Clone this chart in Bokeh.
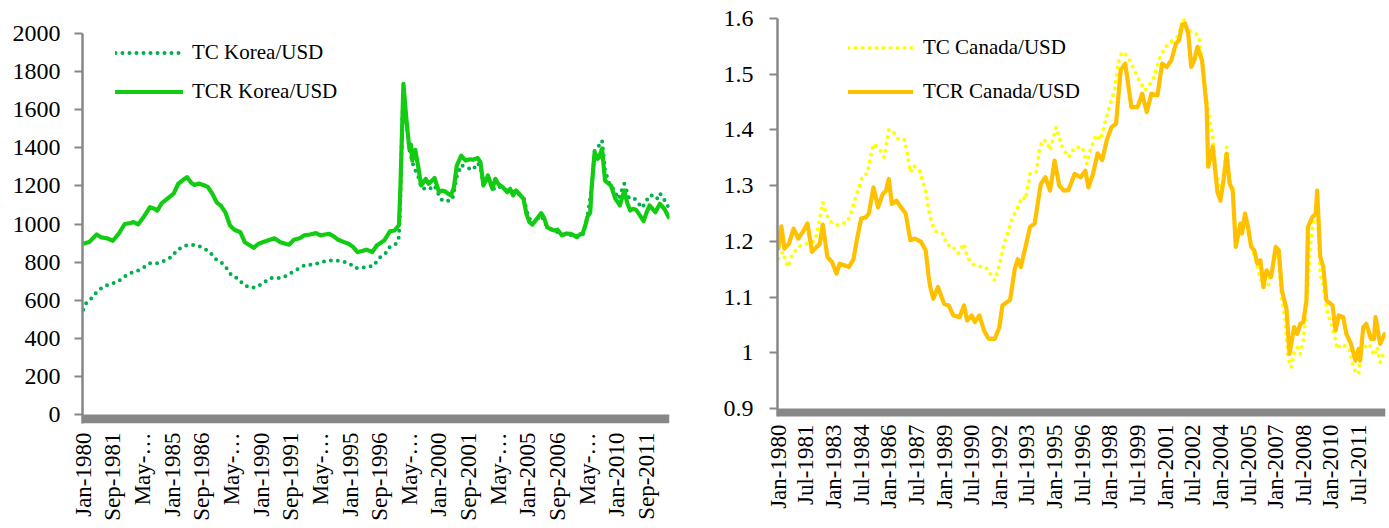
import math
from bokeh.plotting import figure
from bokeh.models import Range1d, FixedTicker, Legend, LegendItem, BoxAnnotation
from bokeh.layouts import row
from bokeh.embed import file_html
from bokeh.resources import INLINE

# ---------------- data (month index 0 = Jan-1980) ----------------
korea_tcr_months = [0, 4, 9, 12, 16, 20, 24, 28, 32, 34, 37, 41, 45, 48, 50, 53, 57, 61, 64, 68,
                    70, 73, 75, 78, 81, 84, 87, 90, 93, 96, 99, 102, 106, 109, 112, 115, 118, 121, 125, 129,
                    133, 137, 139, 142, 146, 149, 153, 157, 160, 163, 166, 169, 172, 176, 179, 182, 185, 188, 191, 193,
                    195, 198, 203, 207, 210, 213, 214, 216, 218, 220, 221, 222, 224, 226, 228, 231, 233, 235, 237, 240,
                    242, 244, 246, 248, 250, 252, 255, 258, 261, 263, 266, 268, 270, 273, 276, 278, 280, 283, 286, 288,
                    290, 292, 295, 297, 299, 301, 303, 306, 309, 311, 313, 316, 318, 320, 323, 326, 329, 331, 333, 335,
                    337, 339, 340, 342, 343, 345, 347, 348, 350, 352, 354, 356, 359, 361, 362, 365, 367, 369, 371, 373,
                    376, 378, 380, 382, 384, 386, 389, 392, 395]
korea_tcr = [896, 905, 945, 930, 925, 912, 950, 1000, 1005, 1010, 998, 1040, 1088, 1080, 1070, 1110, 1135, 1160, 1210, 1235,
             1246, 1215, 1205, 1212, 1205, 1195, 1160, 1114, 1095, 1060, 992, 970, 957, 904, 890, 875, 895, 904, 915, 925,
             904, 895, 892, 917, 925, 940, 945, 952, 940, 945, 948, 935, 917, 905, 896, 880, 852, 858, 865, 860,
             852, 887, 913, 962, 966, 995, 1200, 1736, 1550, 1395, 1417, 1333, 1389, 1300, 1202, 1237, 1211, 1225, 1242, 1167,
             1175, 1172, 1160, 1150, 1190, 1307, 1359, 1333, 1340, 1337, 1347, 1324, 1202, 1255, 1185, 1237, 1210, 1193, 1167, 1185,
             1150, 1176, 1150, 1132, 1053, 1010, 997, 1027, 1057, 1030, 983, 970, 966, 970, 940, 950, 948, 940, 931, 945,
             952, 1000, 1036, 1060, 1193, 1377, 1342, 1350, 1395, 1228, 1215, 1202, 1132, 1110, 1097, 1176, 1110, 1071, 1080, 1074,
             1040, 1015, 1060, 1097, 1080, 1062, 1106, 1080, 1036]

korea_tc_months = [0, 2, 5, 9, 13, 18, 23, 27, 32, 36, 41, 45, 50, 55, 60, 63, 68, 72, 77, 82,
                   86, 89, 93, 97, 100, 105, 108, 113, 117, 122, 126, 132, 136, 141, 145, 150, 155, 160, 165, 170,
                   175, 180, 183, 187, 192, 196, 199, 204, 207, 211, 213, 214, 215, 216, 218, 220, 223, 226, 228, 233,
                   237, 241, 244, 249, 252, 255, 258, 263, 266, 268, 270, 273, 276, 280, 284, 288, 292, 297, 300, 303,
                   306, 309, 313, 318, 323, 328, 333, 337, 340, 343, 345, 348, 350, 352, 355, 358, 361, 363, 365, 368,
                   371, 374, 377, 379, 382, 384, 387, 389, 392, 395]
korea_tc = [550, 584, 605, 642, 668, 686, 694, 721, 742, 752, 773, 794, 794, 808, 829, 861, 885, 891, 887, 870,
            847, 817, 800, 765, 730, 712, 682, 665, 668, 694, 716, 716, 724, 747, 765, 786, 787, 798, 808, 808,
            805, 791, 770, 768, 777, 780, 817, 847, 882, 896, 931, 1150, 1500, 1706, 1530, 1390, 1298, 1250, 1190, 1180,
            1202, 1132, 1118, 1127, 1249, 1310, 1298, 1284, 1320, 1300, 1200, 1250, 1180, 1200, 1180, 1175, 1165, 1140, 1045, 1000,
            1025, 1045, 985, 965, 945, 945, 930, 945, 1030, 1190, 1390, 1412, 1438, 1280, 1211, 1180, 1132, 1170, 1211, 1141,
            1141, 1114, 1085, 1110, 1150, 1150, 1132, 1162, 1127, 1088]

canada_tcr_months = [0, 2, 4, 7, 10, 13, 16, 19, 22, 25, 27, 29, 32, 35, 38, 40, 43, 46, 49, 51,
                     54, 57, 59, 62, 65, 68, 70, 72, 74, 77, 80, 83, 86, 89, 93, 96, 98, 99, 101, 104,
                     108, 111, 114, 118, 121, 123, 126, 128, 131, 134, 137, 141, 144, 146, 149, 151, 154, 156, 158, 161,
                     164, 167, 171, 174, 177, 180, 183, 186, 189, 193, 197, 200, 202, 205, 208, 211, 214, 217, 220, 223,
                     226, 230, 234, 237, 240, 243, 247, 250, 253, 256, 259, 261, 263, 265, 267, 269, 271, 273, 276, 279,
                     280, 283, 286, 288, 290, 292, 294, 296, 298, 301, 302, 304, 306, 308, 310, 312, 314, 316, 318, 321,
                     324, 326, 328, 331, 333, 336, 338, 340, 342, 344, 345, 348, 350, 351, 353, 355, 357, 361, 363, 365,
                     368, 370, 373, 376, 378, 379, 381, 383, 386, 388, 389, 392, 395]
canada_tcr = [1.187, 1.227, 1.187, 1.196, 1.223, 1.205, 1.217, 1.232, 1.181, 1.190, 1.195, 1.230, 1.172, 1.163, 1.142, 1.160, 1.157, 1.154, 1.168, 1.200,
              1.241, 1.243, 1.250, 1.297, 1.261, 1.285, 1.290, 1.312, 1.267, 1.273, 1.261, 1.250, 1.202, 1.205, 1.199, 1.184, 1.136, 1.118, 1.097, 1.118,
              1.088, 1.085, 1.067, 1.064, 1.085, 1.058, 1.067, 1.055, 1.067, 1.040, 1.025, 1.025, 1.046, 1.085, 1.091, 1.095, 1.150, 1.168, 1.154, 1.190,
              1.226, 1.232, 1.303, 1.315, 1.291, 1.345, 1.300, 1.291, 1.292, 1.321, 1.315, 1.327, 1.297, 1.321, 1.358, 1.346, 1.382, 1.405, 1.411, 1.507,
              1.519, 1.441, 1.441, 1.465, 1.432, 1.465, 1.462, 1.519, 1.513, 1.525, 1.555, 1.561, 1.588, 1.591, 1.573, 1.513, 1.525, 1.549, 1.525, 1.441,
              1.334, 1.370, 1.289, 1.273, 1.309, 1.357, 1.303, 1.291, 1.190, 1.232, 1.214, 1.250, 1.226, 1.190, 1.184, 1.160, 1.166, 1.118, 1.148, 1.136,
              1.190, 1.184, 1.112, 1.079, 0.998, 1.046, 1.034, 1.052, 1.055, 1.094, 1.226, 1.244, 1.249, 1.291, 1.172, 1.154, 1.094, 1.085, 1.040, 1.067,
              1.064, 1.034, 1.016, 0.986, 1.007, 0.986, 1.046, 1.052, 1.025, 1.025, 1.064, 1.016, 1.034]

canada_tc_months = [0, 3, 6, 9, 13, 17, 21, 24, 26, 29, 31, 34, 39, 45, 48, 51, 55, 58, 60, 62,
                    66, 69, 72, 74, 78, 82, 84, 86, 88, 92, 94, 96, 98, 100, 103, 107, 110, 113, 117, 121,
                    123, 126, 130, 135, 138, 141, 144, 147, 150, 152, 155, 157, 159, 161, 164, 168, 170, 172, 175, 177,
                    181, 183, 185, 189, 193, 198, 201, 203, 207, 210, 212, 215, 219, 222, 224, 227, 230, 235, 239, 244,
                    249, 254, 260, 264, 266, 272, 274, 276, 278, 281, 283, 285, 287, 289, 292, 294, 296, 298, 301, 303,
                    305, 308, 311, 313, 316, 319, 324, 326, 328, 330, 332, 334, 336, 338, 340, 342, 344, 347, 349, 351,
                    353, 355, 358, 360, 363, 364, 367, 372, 374, 376, 378, 380, 385, 388, 390, 392, 394]
canada_tc = [1.169, 1.181, 1.154, 1.175, 1.190, 1.196, 1.196, 1.202, 1.226, 1.270, 1.250, 1.235, 1.229, 1.235, 1.256, 1.285, 1.318, 1.321, 1.351, 1.375,
             1.366, 1.351, 1.400, 1.400, 1.384, 1.384, 1.357, 1.324, 1.336, 1.327, 1.309, 1.291, 1.256, 1.232, 1.217, 1.214, 1.193, 1.193, 1.178, 1.196,
             1.172, 1.160, 1.155, 1.154, 1.142, 1.130, 1.157, 1.196, 1.220, 1.238, 1.256, 1.268, 1.280, 1.275, 1.321, 1.324, 1.363, 1.382, 1.379, 1.363,
             1.405, 1.387, 1.369, 1.351, 1.369, 1.369, 1.339, 1.361, 1.391, 1.382, 1.405, 1.436, 1.471, 1.528, 1.540, 1.534, 1.519, 1.489, 1.471, 1.489,
             1.534, 1.555, 1.567, 1.600, 1.580, 1.573, 1.567, 1.525, 1.477, 1.417, 1.387, 1.327, 1.303, 1.291, 1.369, 1.309, 1.297, 1.196, 1.220, 1.226,
             1.226, 1.196, 1.166, 1.142, 1.118, 1.118, 1.184, 1.160, 1.094, 1.064, 0.992, 0.974, 1.000, 1.010, 0.998, 1.022, 1.082, 1.208, 1.244, 1.273,
             1.142, 1.118, 1.067, 1.055, 1.022, 1.007, 1.016, 1.007, 0.980, 0.965, 0.962, 1.007, 1.016, 0.995, 1.010, 0.983, 0.998]

korea_xtick_labels = ["Jan-1980", "Sep-1981", "May-\u2026", "Jan-1985", "Sep-1986", "May-\u2026", "Jan-1990",
                      "Sep-1991", "May-\u2026", "Jan-1995", "Sep-1996", "May-\u2026", "Jan-2000", "Sep-2001",
                      "May-\u2026", "Jan-2005", "Sep-2006", "May-\u2026", "Jan-2010", "Sep-2011"]
canada_xtick_labels = ["Jan-1980", "Jul-1981", "Jan-1983", "Jul-1984", "Jan-1986", "Jul-1987", "Jan-1989",
                       "Jul-1990", "Jan-1992", "Jul-1993", "Jan-1995", "Jul-1996", "Jan-1998", "Jul-1999",
                       "Jan-2001", "Jul-2002", "Jan-2004", "Jul-2005", "Jan-2007", "Jul-2008", "Jan-2010", "Jul-2011"]
korea_yticks = [0, 200, 400, 600, 800, 1000, 1200, 1400, 1600, 1800, 2000]
canada_yticks = [0.9, 1.0, 1.1, 1.2, 1.3, 1.4, 1.5, 1.6]
canada_ytick_labels = ["0.9", "1", "1.1", "1.2", "1.3", "1.4", "1.5", "1.6"]

N_MONTHS = 396
FONT = "Liberation Serif"
GRAY = "#878787"

# Both frames share the same top/bottom (the row aligns them); the value
# ranges are padded so each panel's own ticks land where the reference has them.
KOREA_Y = (-47.24, 2078.74)
KOREA_BAND = (-47.24, 0)
CANADA_Y = (0.87308, 1.6)
CANADA_BAND = (0.88564, 0.9)


def style_axes(p, xtick_pos, xtick_labels, yticks, ylabels, xstandoff, ystandoff, band):
    p.outline_line_color = None
    p.grid.visible = False
    # thick grey category-axis band (Excel's dense monthly tick marks)
    p.add_layout(BoxAnnotation(bottom=band[0], top=band[1], fill_color=GRAY, fill_alpha=1.0,
                               line_alpha=0, level="underlay"))
    xa = p.xaxis[0]
    xa.ticker = FixedTicker(ticks=xtick_pos, minor_ticks=[])
    xa.major_label_overrides = dict(zip(xtick_pos, xtick_labels))
    xa.major_label_orientation = math.pi / 2
    xa.major_label_text_font = FONT
    xa.major_label_text_font_size = "23px"
    xa.major_label_text_color = "#000000"
    xa.major_label_standoff = xstandoff
    xa.axis_line_color = None
    xa.major_tick_out = 0
    xa.major_tick_in = 0
    xa.minor_tick_out = 0
    xa.minor_tick_in = 0
    xa.major_tick_line_color = None
    xa.minor_tick_line_color = None

    ya = p.yaxis[0]
    ya.ticker = FixedTicker(ticks=yticks, minor_ticks=[])
    ya.bounds = (band[0], yticks[-1])
    ya.major_label_overrides = dict(zip(yticks, ylabels))
    ya.major_label_text_font = FONT
    ya.major_label_text_font_size = "24px"
    ya.major_label_text_color = "#000000"
    ya.major_label_standoff = ystandoff
    ya.axis_line_color = GRAY
    ya.axis_line_width = 2.5
    ya.major_tick_out = 8
    ya.major_tick_in = 0
    ya.minor_tick_out = 0
    ya.minor_tick_in = 0
    ya.major_tick_line_color = GRAY
    ya.major_tick_line_width = 2


# ---------------- Korea panel ----------------
p1 = figure(width=689, height=526, output_backend="svg", toolbar_location=None,
            x_range=Range1d(-0.5, N_MONTHS - 0.5), y_range=Range1d(*KOREA_Y),
            min_border_left=82, min_border_right=20, min_border_top=18, min_border_bottom=103)
style_axes(p1, list(range(0, N_MONTHS, 20)), korea_xtick_labels,
           korea_yticks, [str(v) for v in korea_yticks], 9, 14, KOREA_BAND)

k1 = p1.line(korea_tc_months, korea_tc, line_color="#00B050", line_width=4,
             line_dash="0 7", line_cap="round")
k2 = p1.line(korea_tcr_months, korea_tcr, line_color="#12CC12", line_width=4.2,
             line_join="round", line_cap="round")
leg1 = Legend(items=[LegendItem(label="TC Korea/USD", renderers=[k1]),
                     LegendItem(label="TCR Korea/USD", renderers=[k2])],
              location=(33, 319), glyph_width=68, glyph_height=25, label_height=25,
              spacing=14, padding=0, margin=0, label_standoff=9,
              label_text_font=FONT, label_text_font_size="21px", label_text_color="#000000",
              border_line_color=None, background_fill_alpha=0)
p1.add_layout(leg1)

# ---------------- Canada panel ----------------
p2 = figure(width=697, height=526, output_backend="svg", toolbar_location=None,
            x_range=Range1d(-0.5, N_MONTHS - 0.5), y_range=Range1d(*CANADA_Y),
            min_border_left=88, min_border_right=1, min_border_top=18, min_border_bottom=103)
style_axes(p2, list(range(0, N_MONTHS, 18)), canada_xtick_labels,
           canada_yticks, canada_ytick_labels, 1, 16, CANADA_BAND)

c1 = p2.line(canada_tc_months, canada_tc, line_color="#FFFF00", line_width=4,
             line_dash="0 7", line_cap="round")
c2 = p2.line(canada_tcr_months, canada_tcr, line_color="#FFC000", line_width=4.2,
             line_join="round", line_cap="round")
leg2 = Legend(items=[LegendItem(label="TC Canada/USD", renderers=[c1]),
                     LegendItem(label="TCR Canada/USD", renderers=[c2])],
              location=(71, 319), glyph_width=65, glyph_height=25, label_height=25,
              spacing=19, padding=0, margin=0, label_standoff=10,
              label_text_font=FONT, label_text_font_size="21px", label_text_color="#000000",
              border_line_color=None, background_fill_alpha=0)
p2.add_layout(leg2)

layout = row(p1, p2)
open("out.html", "w").write(file_html(layout, INLINE))
